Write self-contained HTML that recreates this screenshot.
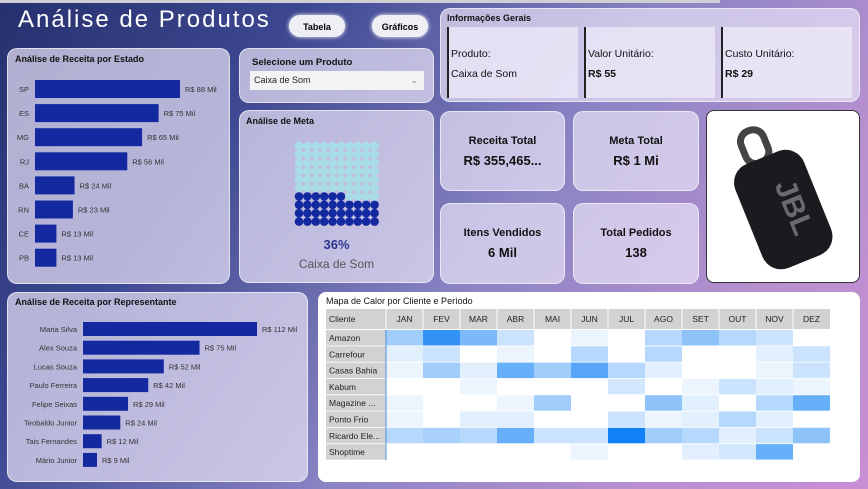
<!DOCTYPE html>
<html><head><meta charset="utf-8"><style>
*{margin:0;padding:0;box-sizing:border-box}
body{width:868px;height:489px;overflow:hidden;font-family:"Liberation Sans","DejaVu Sans",sans-serif;position:relative;
background:linear-gradient(125deg,#27306e 0%,#3c4790 25%,#8a84c4 55%,#b890d0 80%,#c98ed6 100%)}
.p{position:absolute;border-radius:10px;background:rgba(230,225,245,0.72);border:1px solid rgba(255,255,255,0.6)}
.t{position:absolute;font-size:10px;font-weight:bold;color:#111}
.kpi{text-align:center;color:#111}
.kpi .a{font-size:11px;font-weight:bold;margin-top:23px}
.kpi .b{font-size:13px;font-weight:bold;margin-top:6px}
</style></head><body>
<div style="position:absolute;left:0;top:0;width:720px;height:3px;background:#cfcfd4"></div>
<div style="position:absolute;left:18px;top:6px;font-size:24px;color:#fff;letter-spacing:2px;white-space:nowrap">Análise de Produtos</div>
<div style="position:absolute;left:289px;top:15px;width:56px;height:22px;border-radius:11px;background:#eeeef5;font-size:9px;font-weight:bold;text-align:center;line-height:24px;box-shadow:0 0 4px #fff">Tabela</div>
<div style="position:absolute;left:372px;top:15px;width:56px;height:22px;border-radius:11px;background:#eeeef5;font-size:9px;font-weight:bold;text-align:center;line-height:24px;box-shadow:0 0 4px #fff">Gráficos</div>

<div class="p" style="left:7px;top:48px;width:223px;height:236px">
<div class="t" style="left:7px;top:5px;font-size:9px">Análise de Receita por Estado</div></div>
<svg id="st" style="position:absolute;left:0;top:0" width="240" height="290"></svg>

<div class="p" style="left:239px;top:48px;width:195px;height:55px">
<div class="t" style="left:12px;top:8px;font-size:9.5px">Selecione um Produto</div>
<div style="position:absolute;left:10px;top:22px;width:174px;height:19px;background:#f3f3f5;font-size:9px;line-height:19px;padding-left:4px;color:#222">Caixa de Som<span style="position:absolute;right:6px;color:#888">&#8964;</span></div></div>

<div class="p" style="left:239px;top:110px;width:195px;height:173px">
<div class="t" style="left:6px;top:5px;font-size:9px">Análise de Meta</div>
<div style="position:absolute;left:0;width:100%;top:126px;text-align:center;font-size:13px;font-weight:bold;color:#2a3590">36%</div>
<div style="position:absolute;left:0;width:100%;top:146px;text-align:center;font-size:12px;color:#555">Caixa de Som</div></div>
<svg id="wf" style="position:absolute;left:292px;top:140px" width="90" height="90"></svg>

<div class="p" style="left:440px;top:8px;width:420px;height:94px">
<div class="t" style="left:6px;top:4px;font-size:9px">Informações Gerais</div>
<div style="position:absolute;left:6px;top:18px;width:131px;height:71px;background:rgba(240,238,250,0.7);border-left:2px solid #222;font-size:10.5px;padding:17px 0 0 2px;line-height:20px;color:#111">Produto:<br>Caixa de Som</div>
<div style="position:absolute;left:143px;top:18px;width:131px;height:71px;background:rgba(240,238,250,0.7);border-left:2px solid #222;font-size:10.5px;padding:17px 0 0 2px;line-height:20px;color:#111">Valor Unitário:<br><b>R$ 55</b></div>
<div style="position:absolute;left:280px;top:18px;width:131px;height:71px;background:rgba(240,238,250,0.7);border-left:2px solid #222;font-size:10.5px;padding:17px 0 0 2px;line-height:20px;color:#111">Custo Unitário:<br><b>R$ 29</b></div></div>

<div class="p kpi" style="left:440px;top:111px;width:125px;height:80px"><div class="a">Receita Total</div><div class="b">R$ 355,465...</div></div>
<div class="p kpi" style="left:573px;top:111px;width:126px;height:80px"><div class="a">Meta Total</div><div class="b">R$ 1 Mi</div></div>
<div class="p kpi" style="left:440px;top:203px;width:125px;height:81px"><div class="a">Itens Vendidos</div><div class="b">6 Mil</div></div>
<div class="p kpi" style="left:573px;top:203px;width:126px;height:81px"><div class="a">Total Pedidos</div><div class="b">138</div></div>

<div style="position:absolute;left:706px;top:110px;width:154px;height:173px;background:#fff;border:1px solid #333;border-radius:8px;overflow:hidden">
<svg width="154" height="173"><g transform="rotate(-22 77 95)"><rect x="60" y="12" width="24" height="34" rx="11" fill="none" stroke="#444" stroke-width="7"/><rect x="38" y="42" width="74" height="112" rx="20" fill="#1b1b1f"/><text x="76" y="100" fill="#6a6a72" font-size="30" font-weight="bold" text-anchor="middle" transform="rotate(90 76 100)">JBL</text></g></svg></div>

<div class="p" style="left:7px;top:292px;width:301px;height:190px">
<div class="t" style="left:7px;top:4px;font-size:9px">Análise de Receita por Representante</div></div>
<svg id="rp" style="position:absolute;left:0;top:0" width="320" height="489"></svg>

<div style="position:absolute;left:318px;top:292px;width:542px;height:190px;background:#fff;border-radius:8px">
<div class="t" style="left:8px;top:4px;font-size:9px;font-weight:normal">Mapa de Calor por Cliente e Período</div></div>
<svg id="hm" style="position:absolute;left:0;top:0" width="868" height="489"></svg>

<script>
const NS="http://www.w3.org/2000/svg";
function mk(p,t,a,txt){const e=document.createElementNS(NS,t);for(const k in a)e.setAttribute(k,a[k]);if(txt!==undefined)e.textContent=txt;p.appendChild(e);return e;}
const states=["SP","ES","MG","RJ","BA","RN","CE","PB"];
const stateVals=[88,75,65,56,24,23,13,13];
const reps=["Maria Silva","Alex Souza","Lucas Souza","Paulo Ferreira","Felipe Seixas","Teobaldo Junior","Tais Fernandes","Mário Junior"];
const repVals=[112,75,52,42,29,24,12,9];
const clients=["Amazon","Carrefour","Casas Bahia","Kabum","Magazine ...","Ponto Frio","Ricardo Ele...","Shoptime"];
const months=["JAN","FEV","MAR","ABR","MAI","JUN","JUL","AGO","SET","OUT","NOV","DEZ"];
const heat=[
[2,5,3,1,0,0.3,0,1.5,2.5,1.5,1,0],
[0.5,1,0,0.3,0,1.5,0,1.5,0,0,0.5,1],
[0.3,2,0.5,3.5,2,4,1.5,0.5,0,0,0.3,1],
[0,0,0.3,0,0,0,0.8,0,0.3,1,0.5,0.3],
[0.3,0,0,0.3,2,0,0,2.5,0.5,0,1.5,3.5],
[0.3,0,0.5,0.5,0,0,1,0.3,0.5,1.5,0.5,0],
[1.5,1.8,1.5,3.5,1,1,6,2,1.5,0.5,1,2.5],
[0,0,0,0,0,0.3,0,0,0.5,0.8,3.5,0]];
const goalPct=36;

const st=document.getElementById('st');
const sx=v=>35+v*(145/88), sy=i=>89+i*24.1;
states.forEach((s,i)=>{
 const t=mk(st,'text',{x:29,y:sy(i)+3,'font-size':7.5,fill:'#333','text-anchor':'end'},s);
 
 const r=mk(st,'rect',{x:35,y:sy(i)-9,width:sx(stateVals[i])-35,height:18,fill:'#1428a0'});
 
 const l=mk(st,'text',{x:sx(stateVals[i])+5,y:sy(i)+3,'font-size':7.5,fill:'#333'},'R$ '+stateVals[i]+' Mil');
 
});
const rp=document.getElementById('rp');
const rx=v=>83+v*(174/112), ry=i=>329+i*18.7;
reps.forEach((s,i)=>{
 const t=mk(rp,'text',{x:77,y:ry(i)+3,'font-size':7.5,fill:'#333','text-anchor':'end'},s);
 
 const r=mk(rp,'rect',{x:83,y:ry(i)-7,width:rx(repVals[i])-83,height:14,fill:'#1428a0'});
 
 const l=mk(rp,'text',{x:rx(repVals[i])+5,y:ry(i)+3,'font-size':7.5,fill:'#333'},'R$ '+repVals[i]+' Mil');
 
});
const wf=document.getElementById('wf');
for(let k=0;k<100;k++){
 const row=9-Math.floor(k/10), col=k%10;
 const c=mk(wf,'circle',{cx:7+col*8.4,cy:6+row*8.4,r:4.3,fill:k<goalPct?'#1428a0':'#a9dde6'});
 
}
const hm=document.getElementById('hm');
const hx0=386,cw=37,hy0=330,rh=16.3;
mk(hm,'rect',{x:326,y:309,width:504,height:20,fill:'#d2d2d2'});
const ht=mk(hm,'text',{x:329,y:322,'font-size':8.5,fill:'#222'},'Cliente');

months.forEach((m,j)=>{
 const t=mk(hm,'text',{x:hx0+j*cw+cw/2,y:322,'font-size':8.5,fill:'#222','text-anchor':'middle'},m);
 
 mk(hm,'line',{x1:hx0+j*cw,y1:309,x2:hx0+j*cw,y2:329,stroke:'#fff','stroke-width':1});
});
const maxV=6;
function col(v){const f=Math.min(v/maxV,1);const a=[255,255,255],b=[17,128,245];return 'rgb('+a.map((c,i)=>Math.round(c+(b[i]-c)*Math.pow(f,0.85))).join(',')+')';}
clients.forEach((c,i)=>{
 const y=hy0+i*rh;
 mk(hm,'rect',{x:326,y:y,width:60,height:rh-0.8,fill:'#d2d2d2'});
 const t=mk(hm,'text',{x:329,y:y+11,'font-size':8.5,fill:'#222'},c);
 
 heat[i].forEach((v,j)=>{
  const r=mk(hm,'rect',{x:hx0+j*cw,y:y,width:cw,height:rh-0.8,fill:col(v)});
  
 });
});
mk(hm,'line',{x1:386,y1:330,x2:386,y2:460,stroke:'#4a90e0','stroke-width':1});
</script>
</body></html>
